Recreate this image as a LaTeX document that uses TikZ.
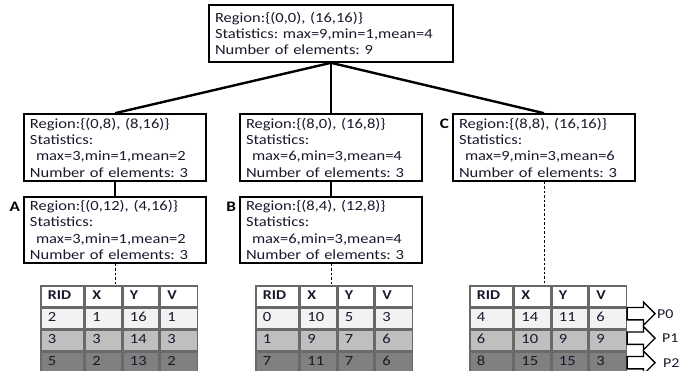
\documentclass[tikz,border=0pt]{standalone}
\usepackage{fontspec}
\setmainfont{Carlito}[FakeStretch=1.18]
\frenchspacing
\usetikzlibrary{matrix,shapes.arrows}

\definecolor{txt}{RGB}{25,25,45}
\definecolor{rowa}{RGB}{242,242,242}
\definecolor{rowb}{RGB}{191,191,191}
\definecolor{rowc}{RGB}{128,128,128}
\definecolor{grid}{RGB}{105,105,105}

\begin{document}
\begin{tikzpicture}[x=1pt, y=-1pt,
  region/.style={draw, line width=1.6pt, align=left, inner xsep=6pt, inner ysep=2pt,
    text=txt, font=\fontsize{14}{16.3}\selectfont},
  branch/.style={line width=2.4pt},
  tolist/.style={line width=0.9pt, dash pattern=on 2.5pt off 2pt},
  tag/.style={font=\fontsize{14.5}{16}\selectfont\bfseries, inner sep=0pt},
  tbl/.style={matrix of nodes, inner sep=0pt, column sep=0pt, row sep=0pt,
    nodes={draw=grid, line width=1.5pt, outer sep=0pt, minimum height=20.5pt,
      text height=9.5pt, text depth=2.5pt, inner xsep=7pt, align=left,
      text=txt, font=\fontsize{14}{16}\selectfont},
    column 1/.style={nodes={text width=29pt}},
    column 2/.style={nodes={text width=22pt}},
    column 3/.style={nodes={text width=22pt}},
    column 4/.style={nodes={text width=23pt}},
    row 1/.style={nodes={font=\fontsize{13.5}{16}\selectfont\bfseries}},
    row 2/.style={nodes={fill=rowa}},
    row 3/.style={nodes={fill=rowb}},
    row 4/.style={nodes={fill=rowc}}},
  parrow/.style={single arrow, draw, line width=1.3pt, fill=white, inner xsep=0pt,
    inner ysep=5.5pt, text height=0pt, text depth=0pt, minimum height=28pt,
    single arrow head extend=5.5pt},
  plabel/.style={anchor=west, inner sep=1pt, text=txt, font=\fontsize{13.5}{15}\selectfont}]

  \useasboundingbox (0,0) rectangle (689,370);

  % Quadtree nodes
  \node (root) [region, text width=232pt, minimum height=57pt] at (331,33.5)
    {Region:\{(0,0), (16,16)\}\\Statistics: max=9,min=1,mean=4\\Number of elements: 9};
  \node (n1) [region, text width=170pt, minimum height=67pt] at (115,147.5)
    {Region:\{(0,8), (8,16)\}\\Statistics:\\\hspace*{6pt}max=3,min=1,mean=2\\Number of elements: 3};
  \node (n2) [region, text width=170pt, minimum height=67pt] at (331,147.5)
    {Region:\{(8,0), (16,8)\}\\Statistics:\\\hspace*{6pt}max=6,min=3,mean=4\\Number of elements: 3};
  \node (n3) [region, text width=170pt, minimum height=67pt] at (544,147.5)
    {Region:\{(8,8), (16,16)\}\\Statistics:\\\hspace*{6pt}max=9,min=3,mean=6\\Number of elements: 3};
  \node (a) [region, text width=170pt, minimum height=66pt] at (115,230)
    {Region:\{(0,12), (4,16)\}\\Statistics:\\\hspace*{6pt}max=3,min=1,mean=2\\Number of elements: 3};
  \node (b) [region, text width=170pt, minimum height=66pt] at (331,230)
    {Region:\{(8,4), (12,8)\}\\Statistics:\\\hspace*{6pt}max=6,min=3,mean=4\\Number of elements: 3};

  % Leaf tags
  \node (ta-tag) [tag, anchor=east] at ([xshift=-3pt,yshift=-11pt]a.north west) {A};
  \node (tb-tag) [tag, anchor=east] at ([xshift=-3pt,yshift=-11pt]b.north west) {B};
  \node (tc-tag) [tag, anchor=east] at ([xshift=-3pt,yshift=-11pt]n3.north west) {C};

  % Tree edges
  \draw [branch] (root.south) -- (n1.north);
  \draw [branch] (root.south) -- (n2.north);
  \draw [branch] (root.south) -- (n3.north);
  \draw [branch] (n1.south) -- (a.north);
  \draw [branch] (n2.south) -- (b.north);

  % Leaf record lists
  \matrix (ta) [tbl, anchor=north west] at (40,285) {
    RID & X & Y & V \\
    2 & 1 & 16 & 1 \\
    3 & 3 & 14 & 3 \\
    5 & 2 & 13 & 2 \\
  };
  \matrix (tb) [tbl, anchor=north west] at (255,285) {
    RID & X & Y & V \\
    0 & 10 & 5 & 3 \\
    1 & 9 & 7 & 6 \\
    7 & 11 & 7 & 6 \\
  };
  \matrix (tc) [tbl, anchor=north west] at (469,285) {
    RID & X & Y & V \\
    4 & 14 & 11 & 6 \\
    6 & 10 & 9 & 9 \\
    8 & 15 & 15 & 3 \\
  };

  \draw [tolist] (a.south) -- (a.south |- ta.north);
  \draw [tolist] (b.south) -- (b.south |- tb.north);
  \draw [tolist] (n3.south) -- (n3.south |- tc.north);

  % Partitions
  \node (p0) [parrow, anchor=tail] at ([yshift=4.5pt]tc-2-4.east) {};
  \node (p1) [parrow, anchor=tail] at ([yshift=2pt]tc-3-4.east) {};
  \node (p2) [parrow, anchor=tail] at ([yshift=-0.5pt]tc-4-4.east) {};
  \node (l0) [plabel] at (p0.tip) {P0};
  \node (l1) [plabel] at ([xshift=5pt]p1.tip) {P1};
  \node (l2) [plabel] at ([xshift=6pt]p2.tip) {P2};
\end{tikzpicture}
\end{document}
